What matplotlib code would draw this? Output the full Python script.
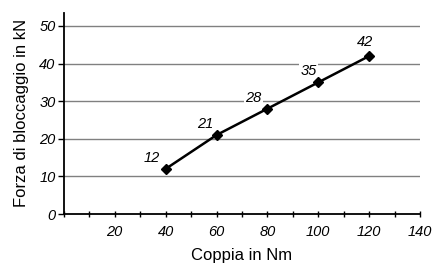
import matplotlib
matplotlib.use('Agg')
import matplotlib.pyplot as plt
from matplotlib.ticker import MultipleLocator

# data
coppia = [40, 60, 80, 100, 120]
forza = [12, 21, 28, 35, 42]
x_ticks = [20, 40, 60, 80, 100, 120, 140]
y_ticks = [0, 10, 20, 30, 40, 50]

plt.rcParams['font.family'] = ['Liberation Sans Narrow', 'Liberation Sans', 'DejaVu Sans']

fig = plt.figure(figsize=(4.34, 2.71), dpi=100)
ax = fig.add_axes([0.147, 0.21, 0.821, 0.743])

# grid lines
for y in y_ticks[1:]:
    ax.axhline(y, color='#808080', linewidth=1.0, zorder=1)

ax.plot(coppia, forza, color='black', linewidth=1.8, marker='D',
        markersize=5.5, zorder=3)

# value labels
offsets = {12: (-10, 3), 21: (-8, 3), 28: (-10, 3), 35: (-7, 3), 42: (-3, 5)}
for x, y in zip(coppia, forza):
    dx, dy = offsets[y]
    ax.annotate(str(y), (x, y), xytext=(dx, dy), textcoords='offset points',
                ha='center', va='bottom', fontsize=10.5, style='italic',
                bbox=dict(boxstyle='square,pad=0.1', fc='white', ec='none'),
                zorder=2)

ax.set_xlim(0, 140)
ax.set_ylim(0, 53.5)
ax.set_xticks(x_ticks)
ax.xaxis.set_minor_locator(MultipleLocator(10))
ax.set_yticks(y_ticks)
ax.tick_params(axis='x', which='both', direction='inout', length=5, width=1,
               labelsize=10.5, pad=5)
ax.tick_params(axis='y', direction='out', length=4, width=1, labelsize=10.5, pad=2)
for lab in ax.get_xticklabels() + ax.get_yticklabels():
    lab.set_style('italic')

ax.spines['top'].set_visible(False)
ax.spines['right'].set_visible(False)
ax.spines['left'].set_linewidth(1.3)
ax.spines['bottom'].set_linewidth(1.3)

ax.set_xlabel('Coppia in Nm', fontsize=12, labelpad=7)
ax.set_ylabel('Forza di bloccaggio in kN', fontsize=12, labelpad=7)

fig.savefig('out.png', dpi=100)
